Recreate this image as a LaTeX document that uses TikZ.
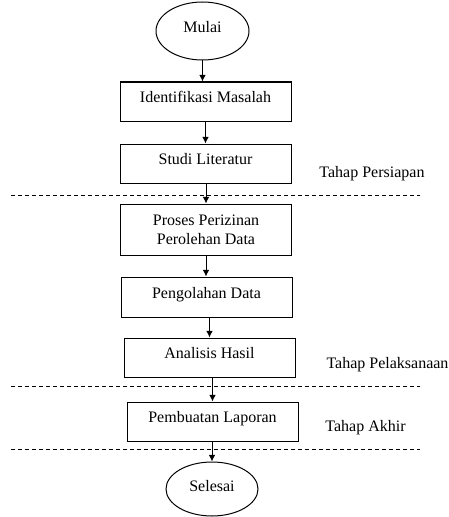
\documentclass[tikz,border=0pt]{standalone}
\usepackage{fontspec}
\setmainfont{Liberation Serif}
\usetikzlibrary{shapes.geometric,arrows.meta}

\tikzset{every picture/.style={line width=0.75pt}}
\tikzset{
  stepbox/.style={draw, minimum width=128.25pt, minimum height=29.25pt, inner sep=2pt,
    text height=9pt, text depth=7pt, font=\fontsize{12}{14}\selectfont},
  terminal/.style={draw, ellipse, minimum width=69.75pt, minimum height=43.5pt, inner sep=1pt,
    text height=9pt, text depth=6pt, font=\fontsize{12}{14}\selectfont},
  phase/.style={font=\fontsize{12}{14}\selectfont, inner sep=0pt},
  flow/.style={-{Latex[length=5pt,width=5pt]}},
  sepline/.style={dash pattern={on 3pt off 2.25pt}}
}

\begin{document}
\begin{tikzpicture}[x=0.75pt,y=0.75pt,yscale=-1,xscale=1]
\useasboundingbox (0,0) rectangle (449,517);

%Shape: Ellipse [id:mulai]
\node [terminal] (mulai) at (202.5,31) {Mulai};
%Shape: Rectangle [id:identifikasi]
\node [stepbox] (identifikasi) at (205.5,101.5) {Identifikasi Masalah};
%Shape: Rectangle [id:studi]
\node [stepbox] (studi) at (205.5,163.5) {Studi Literatur};
%Shape: Rectangle [id:perizinan]
\node [stepbox, minimum height=38.25pt, text height=, text depth=, align=center] (perizinan) at (206,229.5) {Proses Perizinan\\Perolehan Data};
%Shape: Rectangle [id:pengolahan]
\node [stepbox, minimum height=30pt] (pengolahan) at (206.5,297) {Pengolahan Data};
%Shape: Rectangle [id:analisis]
\node [stepbox] (analisis) at (209.5,357.5) {Analisis Hasil};
%Shape: Rectangle [id:laporan]
\node [stepbox] (laporan) at (212.5,421.5) {Pembuatan Laporan};
%Shape: Ellipse [id:selesai]
\node [terminal, minimum width=69pt, minimum height=40.5pt] (selesai) at (212,489) {Selesai};

%Text Node
\node [phase] (persiapan) at (372,174) {Tahap Persiapan};
%Text Node
\node [phase] (pelaksanaan) at (387.5,365) {Tahap Pelaksanaan};
%Text Node
\node [phase] (akhir) at (365.5,428) {Tahap Akhir};

%Straight Lines [id:batas]
\coordinate (b1l) at (11,195);
\coordinate (b1r) at (420,195);
\coordinate (b2l) at (11,386);
\coordinate (b2r) at (420,386);
\coordinate (b3l) at (11,449);
\coordinate (b3r) at (420,449);
\draw [sepline] (b1l) -- (b1r);
\draw [sepline] (b2l) -- (b2r);
\draw [sepline] (b3l) -- (b3r);

%Straight Lines [id:alur]
\draw [flow] (mulai) -- (mulai |- identifikasi.north);
\draw [flow] (identifikasi) -- (identifikasi |- studi.north);
\draw [flow] (perizinan.north |- studi.south) -- (perizinan.north);
\draw [flow] (perizinan) -- (perizinan |- pengolahan.north);
\draw [flow] (analisis.north |- pengolahan.south) -- (analisis.north);
\draw [flow] (laporan.north |- analisis.south) -- (laporan.north);
\draw [flow] (selesai.north |- laporan.south) -- (selesai.north);

\end{tikzpicture}
\end{document}
